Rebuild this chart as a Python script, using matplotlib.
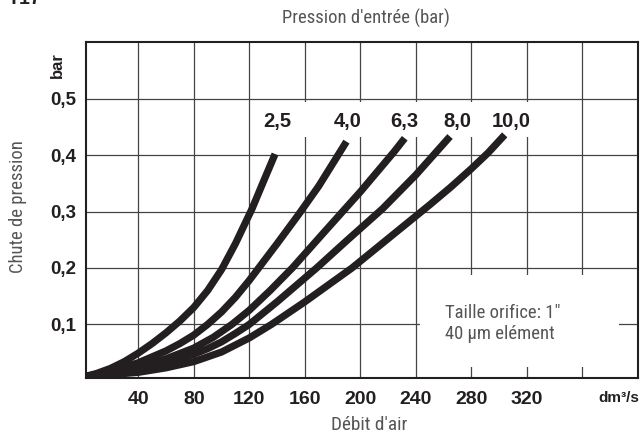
import matplotlib
matplotlib.use("Agg")
import matplotlib.pyplot as plt
from matplotlib.patches import Rectangle
from matplotlib import font_manager

# ---------------- data ----------------
pressures = ["2,5", "4,0", "6,3", "8,0", "10,0"]

flow_25 = [2.4, 10, 20, 30, 40, 50, 60, 70, 80, 90, 100, 110, 122, 130, 138.6]
drop_25 = [0.008, 0.013, 0.022, 0.034, 0.049, 0.066, 0.085, 0.106, 0.130, 0.160,
           0.197, 0.243, 0.305, 0.352, 0.402]

flow_40 = [2.4, 20, 40, 60, 70, 80, 90, 100, 110, 120, 140, 155, 170, 190]
drop_40 = [0.008, 0.017, 0.032, 0.053, 0.066, 0.081, 0.100, 0.122, 0.148, 0.178,
           0.243, 0.293, 0.345, 0.424]

flow_63 = [2.4, 20, 40, 60, 80, 94, 107.5, 120, 135, 151, 174.5, 200, 224, 232]
drop_63 = [0.008, 0.014, 0.025, 0.039, 0.058, 0.077, 0.10, 0.125, 0.16, 0.20, 0.265,
           0.335, 0.405, 0.43]

flow_80 = [2.4, 20, 40, 60, 80, 90, 100, 110, 120, 140, 168.5, 190, 216, 240, 264.6]
drop_80 = [0.008, 0.012, 0.02, 0.031, 0.047, 0.057, 0.069, 0.084, 0.10, 0.14, 0.20,
           0.248, 0.305, 0.365, 0.433]

flow_100 = [2.4, 20, 40, 60, 80, 100, 120, 136, 160, 194, 228, 250, 265, 280, 292, 304]
drop_100 = [0.008, 0.011, 0.015, 0.023, 0.034, 0.051, 0.076, 0.10, 0.14, 0.20, 0.268,
            0.312, 0.343, 0.376, 0.404, 0.436]

curves = [(flow_25, drop_25), (flow_40, drop_40), (flow_63, drop_63),
          (flow_80, drop_80), (flow_100, drop_100)]

label_x = [140, 191, 232, 270, 309]
label_y = 0.459

x_ticks = [40, 80, 120, 160, 200, 240, 280, 320, 360]
x_ticklabels = ["40", "80", "120", "160", "200", "240", "280", "320", ""]
y_ticks = [0.1, 0.2, 0.3, 0.4, 0.5]
y_ticklabels = ["0,1", "0,2", "0,3", "0,4", "0,5"]

# ---------------- fonts ----------------
available = sorted({f.name for f in font_manager.fontManager.ttflist})
narrow = None
for cand in ["Roboto Condensed", "Liberation Sans Narrow", "Open Sans Condensed",
             "Noto Sans Condensed", "DejaVu Sans Condensed"]:
    if cand in available:
        narrow = cand
        break
if narrow is None:
    conds = [n for n in available if "Condensed" in n or "Narrow" in n]
    narrow = conds[0] if conds else ("Roboto" if "Roboto" in available else "DejaVu Sans")
boldfam = "Liberation Sans"

plt.rcParams["font.family"] = [boldfam, "DejaVu Sans"]

fig = plt.figure(figsize=(6.41, 4.36), dpi=100)
ax = fig.add_axes([86 / 641, 1 - 378 / 436, (638 - 86) / 641, (378 - 42.3) / 436])

ax.set_xlim(2.4, 400)
ax.set_ylim(0.005, 0.6)

ax.set_xticks(x_ticks)
ax.set_xticklabels(x_ticklabels, fontsize=14, fontweight="bold", color="#231f20")
ax.set_yticks(y_ticks)
ax.set_yticklabels(y_ticklabels, fontsize=13.5, fontweight="bold", color="#231f20")
ax.tick_params(axis="both", length=0)
ax.tick_params(axis="x", pad=9)
ax.tick_params(axis="y", pad=7)

ax.set_axisbelow(True)
ax.grid(True, color="#444444", linewidth=0.9)

for s in ax.spines.values():
    s.set_linewidth(1.5)
    s.set_color("#231f20")

# white boxes hiding parts of the grid
ax.add_patch(Rectangle((124, 0.433), 220, 0.062, facecolor="white",
                       edgecolor="none", zorder=1))
ax.add_patch(Rectangle((243, 0.025), 143, 0.163, facecolor="white",
                       edgecolor="none", zorder=1))

for (fx, fy) in curves:
    ax.plot(fx, fy, color="#231f20", linewidth=5.2, solid_capstyle="butt",
            solid_joinstyle="round", zorder=3)

for lab, lx in zip(pressures, label_x):
    ax.text(lx, label_y, lab, ha="center", va="center", fontsize=14.5,
            fontweight="bold", color="#231f20", zorder=4)

gray = "#555555"
ann1 = fig.text(445 / 641, 1 - 313 / 436, "Taille orifice: 1\"", family=narrow,
                fontsize=13, color=gray, ha="left", va="center")
ann2 = fig.text(445 / 641, 1 - 334 / 436, "40 µm elément", family=narrow,
                fontsize=13, color=gray, ha="left", va="center")
t_top = fig.text(366 / 641, 1 - 18 / 436, "Pression d'entrée (bar)", family=narrow,
                 fontsize=13, color=gray, ha="center", va="center")
t_bot = fig.text(369 / 641, 1 - 425 / 436, "Débit d'air", family=narrow,
                 fontsize=13, color=gray, ha="center", va="center")
t_left = fig.text(18 / 641, 1 - 207 / 436, "Chute de pression", family=narrow,
                  fontsize=13, color=gray, ha="center", va="center", rotation=90)
fig.text(57 / 641, 1 - 65 / 436, "bar", fontsize=12, fontweight="bold",
         color="#231f20", ha="center", va="center", rotation=90)
fig.text(619 / 641, 1 - 398 / 436, "dm³/s", fontsize=11, fontweight="bold",
         color="#231f20", ha="center", va="center")
fig.text(8 / 641, 1 - 8 / 436, "T17", fontsize=14, fontweight="bold",
         color="#231f20", ha="left", va="bottom")

# fit the light condensed texts to the reference widths (in pixels)
fig.canvas.draw()
renderer = fig.canvas.get_renderer()
targets = [(ann1, 115, False), (t_top, 167, False),
           (t_bot, 76, False), (t_left, 132, True)]
for txt, target, vertical in targets:
    bb = txt.get_window_extent(renderer)
    size = bb.height if vertical else bb.width
    fs = txt.get_fontsize() * target / size
    txt.set_fontsize(min(max(fs, 9), 14))
ann2.set_fontsize(ann1.get_fontsize())

fig.savefig("out.png", dpi=100)
